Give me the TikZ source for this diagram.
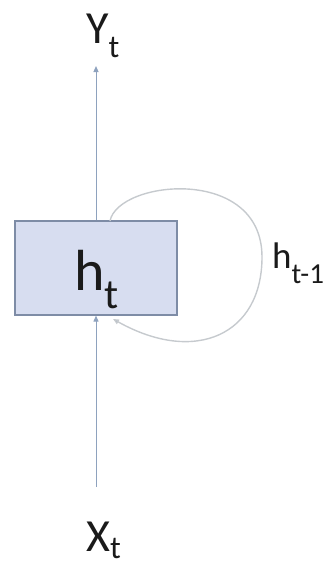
\documentclass[tikz,border=0pt]{standalone}
\usepackage{fontspec}
\setmainfont{Carlito}
\usetikzlibrary{arrows.meta}
\definecolor{boxfill}{HTML}{D7DDF0}
\definecolor{boxdraw}{HTML}{7E8CA6}
\definecolor{flow}{HTML}{8EA2BE}
\definecolor{loopc}{HTML}{C6CACE}
\definecolor{txt}{HTML}{1A1A1A}
\newcommand{\lbl}[4]{{\fontsize{#1}{#1}\selectfont #3}\raisebox{-#4pt}{\fontsize{#2}{#2}\selectfont t}}
\tikzset{
  cell/.style={draw=boxdraw, line width=1.2pt, fill=boxfill, minimum width=162pt, minimum height=94pt, inner sep=0pt},
  flowline/.style={draw=flow, line width=1pt, -{Triangle[length=6pt,width=5pt]}},
  loopline/.style={draw=loopc, line width=1.4pt, -{Triangle[length=6pt,width=5pt,fill=flow]}},
  lab/.style={text=txt, inner sep=0pt, anchor=base west}
}
\begin{document}
\begin{tikzpicture}[x=1pt,y=-1pt]
\useasboundingbox (0,0) rectangle (327,570);
\node[cell] (h) at (96,268) {};
\node[lab] (hl) at (74,290) {\lbl{58}{42}{h}{18}};
\node[lab] (y) at (86,43) {\lbl{46}{32}{Y}{14}};
\node[lab] (x) at (86,551) {\lbl{46}{32}{X}{7}};
\node[lab] (hp) at (272,268) {{\fontsize{37}{37}\selectfont h}\raisebox{-15pt}{\fontsize{29}{29}\selectfont t-1}};
\coordinate (yend) at (96,66);
\coordinate (xstart) at (96,487);
\coordinate (ls) at (110,221);
\coordinate (le) at (113,319);
\draw[flowline] (h.north -| yend) -- (yend);
\draw[flowline] (xstart) -- (h.south -| xstart);
\draw[loopline] (ls) .. controls (118,180) and (262,165) .. (262,257)
  .. controls (262,335) and (195,365) .. (le);
\end{tikzpicture}
\end{document}
